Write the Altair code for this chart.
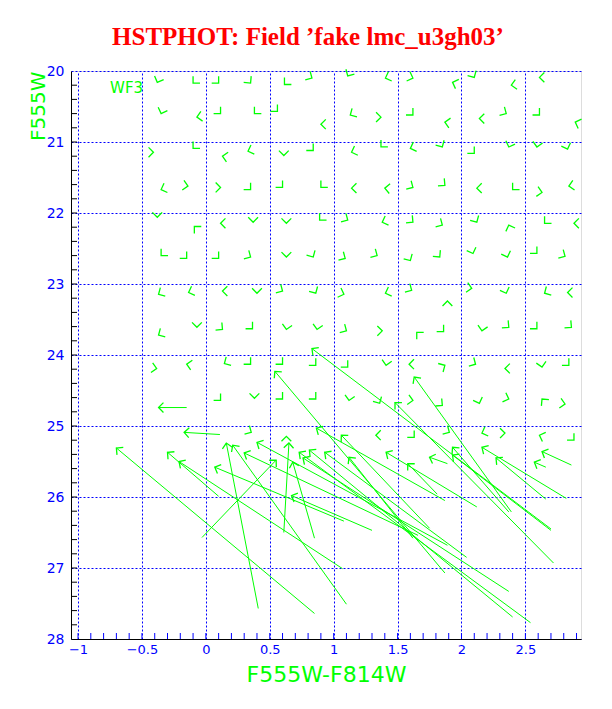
import altair as alt
import pandas as pd
import numpy as np

# ---------------- data ----------------
# short vectors (drawn as bare arrow heads): recovered position + screen direction (deg, clockwise from +x)
sm_x = [-0.38, -0.10, 0.10, 0.35, 0.615, 0.83, 1.11, 1.405, 1.62, 1.93, 2.10, 2.39, 2.61,
        -0.35, -0.07, 0.115, 0.38, 0.56, 0.90, 1.13, 1.37, 1.62, 1.87, 2.14, 2.35, 2.61, 2.89,
        -0.41, -0.10, 0.13, 0.33, 0.61, 0.84, 1.14, 1.37, 1.60, 1.85, 2.10, 2.37, 2.59, 2.83,
        -0.35, -0.14, 0.115, 0.35, 0.60, 0.90, 1.14, 1.40, 1.62, 1.87, 2.12, 2.40, 2.63, 2.84,
        -0.38, -0.09, 0.115, 0.37, 0.63, 0.89, 1.11, 1.38, 1.62, 1.85, 2.12, 2.37, 2.65, 2.88,
        -0.35, -0.15, 0.10, 0.35, 0.63, 0.84, 1.09, 1.34, 1.60, 1.83, 2.09, 2.36, 2.59, 2.81,
        -0.37, -0.135, 0.13, 0.40, 0.60, 0.86, 1.08, 1.405, 1.61, 1.89, 2.08, 2.35, 2.65, 2.83,
        -0.37, -0.07, 0.13, 0.365, 0.63, 0.87, 1.10, 1.38, 1.65, 1.86, 2.16, 2.37, 2.59, 2.86,
        -0.385, -0.15, 0.145, 0.35, 0.60, 0.86, 1.11, 1.41, 1.59, 1.87, 2.11, 2.34, 2.63, 2.84,
        0.115, 0.38, 0.60, 0.86, 1.12, 1.36, 1.62, 1.85, 2.14, 2.37, 2.63, 2.81,
        0.355, 0.63, 1.33, 1.63, 1.905, 2.16, 2.34, 2.61, 2.88]
sm_y = [20.16, 20.17, 20.17, 20.17, 20.19, 20.10, 20.07, 20.10, 20.10, 20.16, 20.09, 20.20, 20.09,
        20.60, 20.65, 20.60, 20.60, 20.57, 20.75, 20.62, 20.65, 20.62, 20.72, 20.67, 20.60, 20.62, 20.72,
        21.145, 21.09, 21.20, 21.13, 21.19, 21.12, 21.145, 21.07, 21.09, 21.07, 21.16, 21.07, 21.07, 21.10,
        21.67, 21.62, 21.64, 21.67, 21.64, 21.64, 21.65, 21.65, 21.64, 21.61, 21.65, 21.67, 21.71, 21.62,
        22.06, 22.19, 22.145, 22.13, 22.145, 22.10, 22.10, 22.13, 22.13, 22.17, 22.13, 22.17, 22.145, 22.145,
        22.60, 22.64, 22.64, 22.62, 22.62, 22.62, 22.64, 22.60, 22.67, 22.62, 22.57, 22.62, 22.57, 22.61,
        23.145, 23.12, 23.10, 23.13, 23.10, 23.13, 23.145, 23.13, 23.09, 23.24, 23.06, 23.13, 23.13, 23.12,
        23.72, 23.61, 23.64, 23.63, 23.64, 23.64, 23.66, 23.66, 23.68, 23.67, 23.66, 23.61, 23.63, 23.61,
        24.19, 24.13, 24.12, 24.13, 24.13, 24.145, 24.17, 24.145, 24.13, 24.145, 24.13, 24.19, 24.17, 24.145,
        24.64, 24.61, 24.62, 24.62, 24.64, 24.68, 24.64, 24.71, 24.68, 24.62, 24.62, 24.69,
        25.09, 25.145, 25.13, 25.16, 25.09, 25.10, 25.10, 25.13, 25.20]
sm_dir = [112, 135, 45, 50, 135, 30, 120, 160, 20, 200, 60, 170, 180,
          110, 170, 45, 135, 45, 180, 150, 0, 45, 190, 180, 30, 45, 200,
          0, 135, 190, 160, 90, 45, 160, 135, 160, 60, 45, 110, 100, 70,
          160, 10, 0, 45, 45, 135, 180, 185, 30, 40, 180, 135, 10, 170,
          90, 225, 180, 90, 90, 135, 30, 160, 40, 30, 60, 250, 135, 180,
          135, 45, 45, 30, 90, 60, 30, 30, 60, 50, 70, 70, 45, 30,
          150, 160, 180, 90, 30, 60, 20, 160, 30, 270, 10, 70, 150, 180,
          150, 90, 40, 45, 100, 100, 30, 0, 225, 45, 100, 40, 45, 40,
          10, 190, 150, 45, 45, 45, 45, 100, 180, 330, 30, 180, 80, 45,
          45, 90, 45, 45, 100, 60, 10, 40, 70, 20, 230, 10,
          30, 270, 180, 45, 30, 160, 0, 200, 45]

# long vectors: input (tail) -> recovered (head)
lv_x1 = [0.85, 0.10, 1.07, 1.08, 0.41, 1.10, 1.66, 1.89, -0.03, 0.61, 0.85, 1.30, 2.54, 2.40, 2.37,
         2.04, 1.75, 1.62, 2.12, 1.81, 1.89, 2.82, 2.66, 2.86, 2.66, 2.39, 2.70, 2.72, 1.87, -0.15,
         0.11, 1.87, 2.37, 2.70]
lv_y1 = [27.64, 25.99, 27.01, 26.34, 27.57, 27.51, 26.54, 26.68, 26.57, 26.50, 26.58, 26.47, 27.77, 27.69, 27.33,
         26.85, 26.44, 26.58, 26.14, 25.96, 25.53, 26.02, 26.03, 25.55, 25.58, 26.21, 26.45, 26.93, 27.07, 24.74,
         25.12, 26.05, 26.21, 26.47]
lv_x2 = [-0.70, -0.30, -0.21, 0.07, 0.16, 0.21, 0.30, 0.40, 0.55, 0.65, 0.68, 0.67, 0.73, 0.81, 0.76,
         0.93, 1.06, 1.12, 1.41, 1.58, 1.75, 2.16, 2.27, 2.63, 2.57, 1.63, 0.83, 1.48, 0.54, -0.37,
         -0.17, 0.865, 1.93, 1.93]
lv_y2 = [25.31, 25.37, 25.50, 25.58, 25.24, 25.27, 25.38, 25.23, 25.48, 25.24, 25.51, 25.98, 25.37, 25.34, 25.45,
         25.37, 25.13, 25.44, 25.37, 25.53, 25.44, 25.30, 25.45, 25.36, 25.51, 24.31, 23.91, 24.67, 24.23, 24.74,
         25.09, 25.03, 25.30, 25.41]

x_major = [-1, -0.5, 0, 0.5, 1, 1.5, 2, 2.5]
y_major = [20, 21, 22, 23, 24, 25, 26, 27, 28]
x_minor = [round(-1.0 + 0.1 * i, 1) for i in range(40)]
y_minor = [round(20.2 + 0.2 * i, 1) for i in range(39)]

label_text = ["WF3"]
label_x = [-0.62]
label_y = [20.24]

title_text = ["HSTPHOT: Field \u2019fake lmc_u3gh03\u2019"]

# ---------------- layout ----------------
W, H = 510, 568
XMIN, XMAX = -1.055, 2.935
YMIN, YMAX = 20, 28
kx = W / (XMAX - XMIN)
ky = H / (YMAX - YMIN)

GREEN = "#00ff00"
BLUE = "#0000ff"
RED = "#ff0000"
FONT = "DejaVu Sans"

xs = alt.Scale(domain=[XMIN, XMAX], nice=False, zero=False)
ys = alt.Scale(domain=[YMIN, YMAX], nice=False, zero=False, reverse=True)

long_df = pd.DataFrame({"x1": lv_x1, "y1": lv_y1, "x2": lv_x2, "y2": lv_y2})
long_df["ang"] = np.degrees(np.arctan2((long_df.y2 - long_df.y1) * ky,
                                       (long_df.x2 - long_df.x1) * kx)) % 360

heads = pd.concat([
    pd.DataFrame({"x": sm_x, "y": sm_y, "ang": [float(a) % 360 for a in sm_dir]}),
    long_df.rename(columns={"x2": "x", "y2": "y"})[["x", "y", "ang"]],
], ignore_index=True)

base_axes = alt.Chart(pd.DataFrame({"x": [0.0], "y": [24.0]})).mark_point(opacity=0).encode(
    x=alt.X("x:Q", scale=xs, axis=alt.Axis(
        values=x_major, format="~g", title="F555W-F814W",
        grid=True, gridColor=BLUE, gridDash=[2, 2], gridWidth=1, gridOpacity=1,
        domainColor="black", ticks=False, tickSize=0,
        labelColor=BLUE, labelFont=FONT, labelFontSize=13, labelPadding=4,
        labelFlush=False, labelOverlap=False,
        titleColor=GREEN, titleFont=FONT, titleFontSize=22, titleFontWeight="normal",
        titleX=W / 2, titleY=35, titleAlign="center", titleBaseline="middle")),
    y=alt.Y("y:Q", scale=ys, axis=alt.Axis(
        values=y_major, format="~g", title="F555W",
        grid=True, gridColor=BLUE, gridDash=[2, 2], gridWidth=1, gridOpacity=1,
        domainColor="black", ticks=False, tickSize=0,
        labelColor=BLUE, labelFont=FONT, labelFontSize=14, labelPadding=7,
        labelFlush=False, labelOverlap=False,
        titleColor=GREEN, titleFont=FONT, titleFontSize=20, titleFontWeight="normal",
        titleAngle=270, titleX=-33, titleY=0, titleAlign="right", titleBaseline="middle")),
)

ytick = alt.Chart(pd.DataFrame({"y": y_minor})).mark_rule(color="black", strokeWidth=1).encode(
    y=alt.Y("y:Q", scale=ys), x=alt.value(0), x2=alt.value(6))
xtick = alt.Chart(pd.DataFrame({"x": x_minor})).mark_rule(color=BLUE, strokeWidth=1).encode(
    x=alt.X("x:Q", scale=xs), y=alt.value(H), y2=alt.value(H - 6))

shafts = alt.Chart(long_df).mark_rule(color=GREEN, strokeWidth=1).encode(
    x=alt.X("x1:Q", scale=xs), y=alt.Y("y1:Q", scale=ys),
    x2="x2:Q", y2="y2:Q")

CHEVRON = "M -0.7 -0.7 L 0 0 L -0.7 0.7"
head_marks = alt.Chart(heads).mark_point(
    shape=CHEVRON, filled=False, color=GREEN, stroke=GREEN, strokeWidth=1.3,
    opacity=1, size=196).encode(
    x=alt.X("x:Q", scale=xs), y=alt.Y("y:Q", scale=ys),
    angle=alt.Angle("ang:Q", scale=None))

wf3 = alt.Chart(pd.DataFrame({"x": label_x, "y": label_y, "t": label_text})).mark_text(
    font=FONT, fontSize=15, color=GREEN, align="center", baseline="middle").encode(
    x=alt.X("x:Q", scale=xs), y=alt.Y("y:Q", scale=ys), text="t:N")

title_mark = alt.Chart(pd.DataFrame({"t": title_text})).mark_text(
    font="Liberation Serif", fontSize=25, fontWeight="bold", color=RED,
    align="center", baseline="alphabetic").encode(
    text="t:N", x=alt.value(W / 2 - 18), y=alt.value(-26))

chart = alt.layer(base_axes, ytick, xtick, shafts, head_marks, wf3, title_mark).properties(
    width=W, height=H,
    autosize=alt.AutoSizeParams(type="none"),
    padding={"left": 63, "top": 63, "right": 20, "bottom": 55},
).configure_view(stroke="black", strokeWidth=1).configure(background="white")

chart.save("out.html", embed_options={"renderer": "svg", "actions": False})
